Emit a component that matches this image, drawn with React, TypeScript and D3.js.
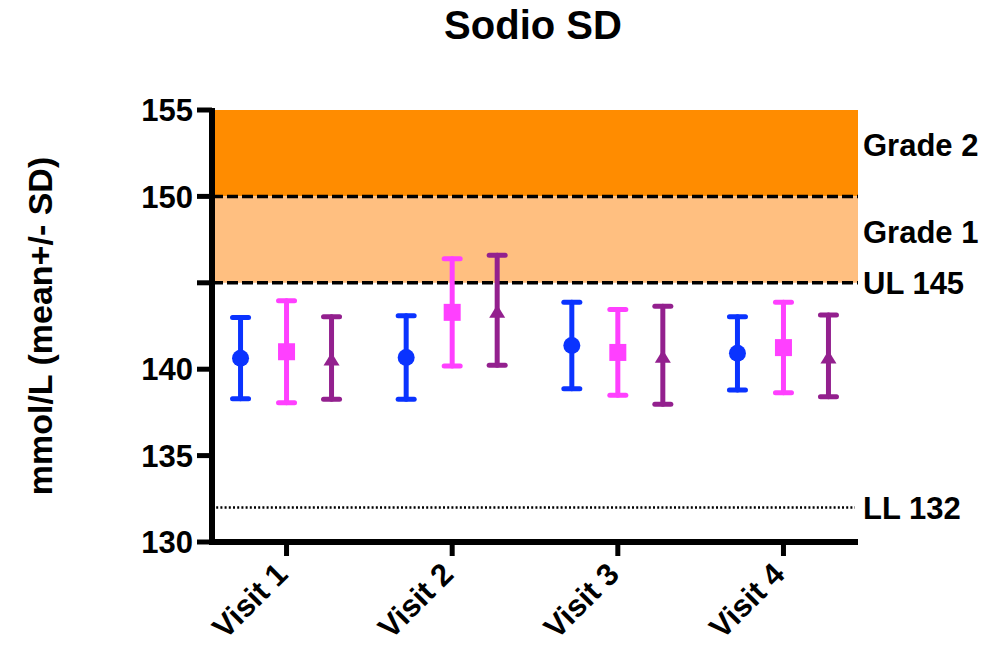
import React from 'react';
import * as d3 from 'd3';

// categories and series (mean, SD)
const visits = ['Visit 1', 'Visit 2', 'Visit 3', 'Visit 4'];
const blueMean = [140.64, 140.68, 141.37, 140.92];
const blueSD = [2.35, 2.42, 2.5, 2.12];
const pinkMean = [141.01, 143.29, 140.97, 141.25];
const pinkSD = [2.95, 3.1, 2.48, 2.62];
const purpleMean = [140.65, 143.41, 140.81, 140.77];
const purpleSD = [2.39, 3.18, 2.84, 2.36];

const yTicks = [130, 135, 140, 145, 150, 155];
const yTickLabels = ['130', '135', '140', '', '150', '155'];

const gradeBands = [
  { from: 150, to: 155, label: 'Grade 2', color: '#FF8C00' },
  { from: 145, to: 150, label: 'Grade 1', color: '#FFBF80' },
];
const upperLimit = 145;
const lowerLimit = 132;

const W = 995;
const H = 647;
const left = 212;
const right = 858;
const top = 110;
const bottom = 542;
const font = 'Liberation Sans, Arial, Helvetica, sans-serif';

const series = [
  { mean: blueMean, sd: blueSD, color: '#0A33FF', shape: 'circle', offset: -46 },
  { mean: pinkMean, sd: pinkSD, color: '#FF40FF', shape: 'square', offset: 0 },
  { mean: purpleMean, sd: purpleSD, color: '#93208E', shape: 'triangle', offset: 45 },
];

const App = () => {
  const y = d3.scaleLinear().domain([130, 155]).range([bottom, top]);
  const x = d3.scalePoint<string>().domain(visits).range([left, right]).padding(0.45);

  const marker = (shape: string, cx: number, cy: number, color: string) => {
    if (shape === 'circle') return <circle cx={cx} cy={cy} r={8.5} fill={color} />;
    if (shape === 'square') return <rect x={cx - 8.5} y={cy - 8.5} width={17} height={17} fill={color} />;
    return <path d={`M${cx},${cy - 5.5} L${cx + 8},${cy + 7.5} L${cx - 8},${cy + 7.5} Z`} fill={color} />;
  };

  return (
    <svg width={W} height={H} style={{ position: 'absolute', left: 0, top: 0, background: '#fff' }} fontFamily={font} fontWeight="bold">
      <text x={533} y={39} textAnchor="middle" fontSize={40}>Sodio SD</text>

      {gradeBands.map(b => (
        <g key={b.label}>
          <rect x={left + 3} y={y(b.to)} width={right - left - 3} height={y(b.from) - y(b.to)} fill={b.color} />
          <text x={right + 5} y={y((b.from + b.to) / 2) + 3} fontSize={31}>{b.label}</text>
        </g>
      ))}
      <line x1={left} x2={right} y1={y(150)} y2={y(150)} stroke="#000" strokeWidth={3.5} strokeDasharray="11,4" />
      <line x1={left} x2={right} y1={y(upperLimit)} y2={y(upperLimit)} stroke="#000" strokeWidth={3.5} strokeDasharray="11,4" />
      <text x={right + 5} y={y(upperLimit)} dy="0.36em" fontSize={31}>UL {upperLimit}</text>
      <line x1={left} x2={right - 3} y1={y(lowerLimit)} y2={y(lowerLimit)} stroke="#000" strokeWidth={2.5} strokeDasharray="2,2.2" />
      <text x={right + 5} y={y(lowerLimit)} dy="0.38em" fontSize={31}>LL {lowerLimit}</text>

      {/* y axis */}
      <line x1={left} x2={left} y1={top - 2} y2={bottom + 3} stroke="#000" strokeWidth={6} />
      {yTicks.map((t, i) => (
        <g key={t}>
          <line x1={left - 15} x2={left} y1={y(t)} y2={y(t)} stroke="#000" strokeWidth={5} />
          <text x={left - 19} y={y(t)} dy="0.36em" textAnchor="end" fontSize={31}>{yTickLabels[i]}</text>
        </g>
      ))}
      <text transform={`translate(52,${(top + bottom) / 2}) rotate(-90)`} textAnchor="middle" fontSize={34}>mmol/L (mean+/- SD)</text>

      {/* x axis */}
      <line x1={left - 3} x2={right} y1={bottom} y2={bottom} stroke="#000" strokeWidth={6} />
      {visits.map(v => (
        <g key={v}>
          <line x1={x(v)} x2={x(v)} y1={bottom} y2={bottom + 14} stroke="#000" strokeWidth={5} />
          <text transform={`translate(${(x(v) as number) + 3},576) rotate(-45)`} textAnchor="end" fontSize={31}>{v}</text>
        </g>
      ))}

      {/* error bars */}
      {series.map((s, si) => (
        <g key={si}>
          {visits.map((v, i) => {
            const cx = (x(v) as number) + s.offset;
            const hi = y(s.mean[i] + s.sd[i]);
            const lo = y(s.mean[i] - s.sd[i]);
            return (
              <g key={v} stroke={s.color} strokeWidth={5} strokeLinecap="round">
                <line x1={cx} x2={cx} y1={hi} y2={lo} />
                <line x1={cx - 8} x2={cx + 8} y1={hi} y2={hi} />
                <line x1={cx - 8} x2={cx + 8} y1={lo} y2={lo} />
                <g stroke="none">{marker(s.shape, cx, y(s.mean[i]), s.color)}</g>
              </g>
            );
          })}
        </g>
      ))}
    </svg>
  );
};

export default App;
